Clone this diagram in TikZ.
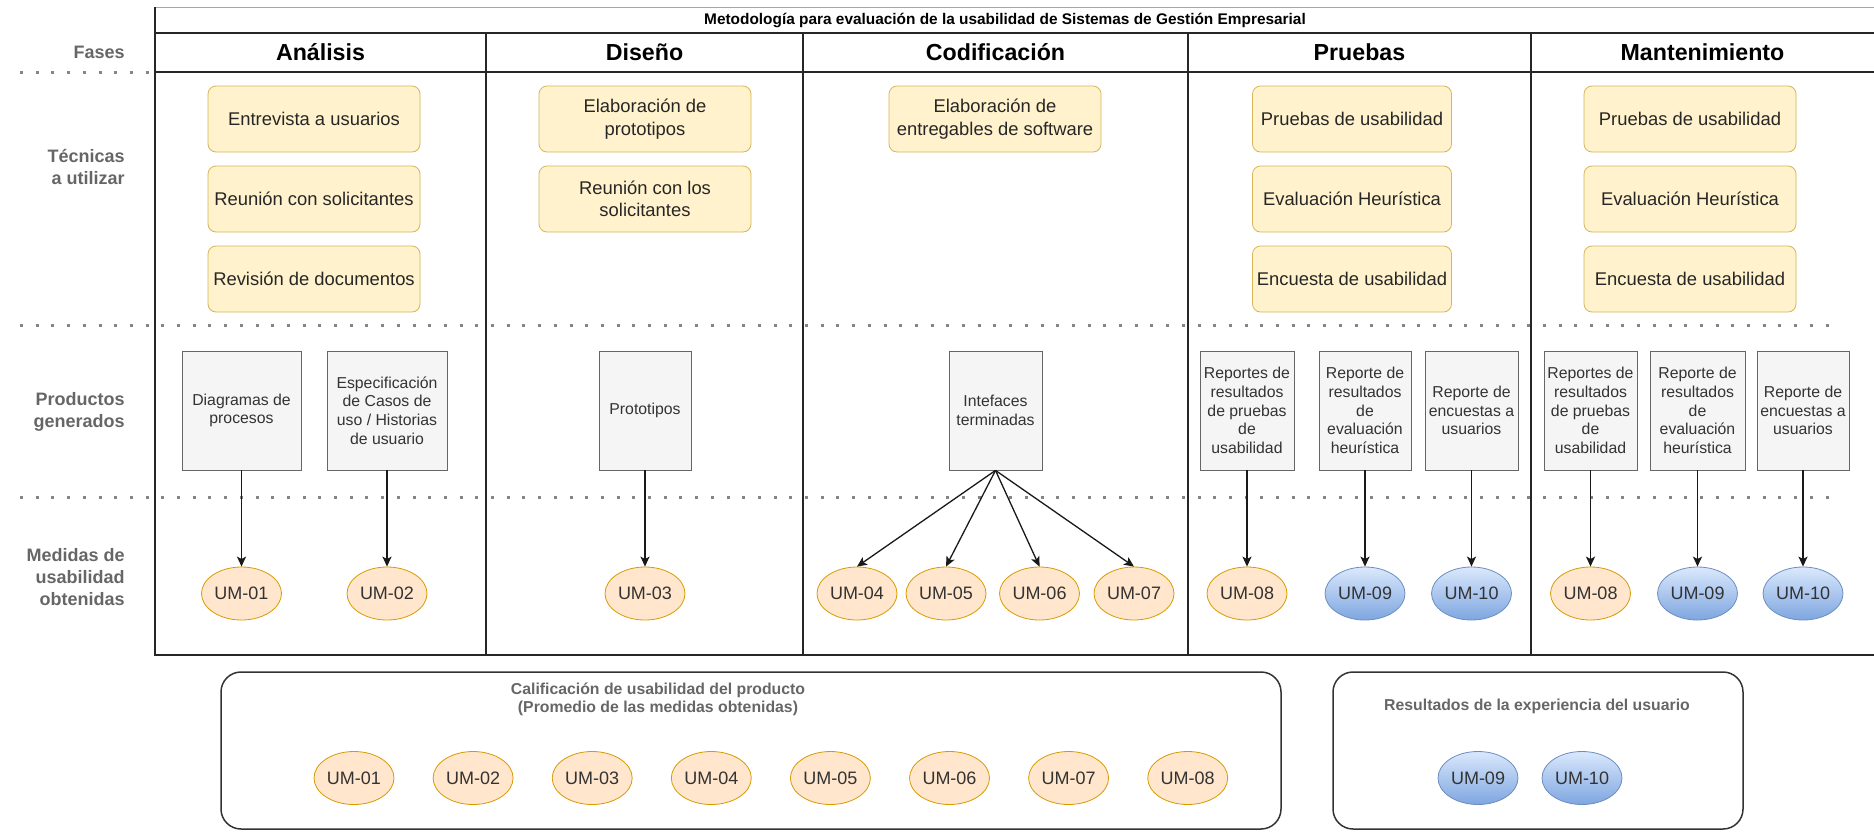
\documentclass[tikz,border=0pt]{standalone}
\usepackage{fontspec}
\setmainfont{Liberation Sans}
\usetikzlibrary{shapes.geometric,arrows.meta,positioning}
\definecolor{notaborde}{HTML}{D6B656}
\definecolor{notafondo}{HTML}{FFF2CC}
\definecolor{grisborde}{HTML}{666666}
\definecolor{grisfondo}{HTML}{F5F5F5}
\definecolor{textogris}{HTML}{333333}
\definecolor{naranjaborde}{HTML}{D79B00}
\definecolor{naranjafondo}{HTML}{FFE6CC}
\definecolor{azulborde}{HTML}{6C8EBF}
\definecolor{azularriba}{HTML}{DAE8FC}
\definecolor{azulabajo}{HTML}{7EA6E0}
\tikzset{
  tecnica/.style={draw=notaborde, fill=notafondo, rounded corners=4pt, minimum width=106pt, minimum height=33pt, align=center, inner sep=1pt, text=black!85, font=\fontsize{9.2}{11.2}\selectfont},
  producto/.style={draw=grisborde, fill=grisfondo, minimum height=59.5pt, align=center, inner sep=1pt, text=textogris, font=\fontsize{7.9}{9.3}\selectfont},
  medida/.style={ellipse, minimum width=40pt, minimum height=26.5pt, inner sep=0pt, text=textogris, font=\fontsize{9}{10}\selectfont},
  umnar/.style={medida, draw=naranjaborde, fill=naranjafondo},
  umazul/.style={medida, draw=azulborde, top color=azularriba, bottom color=azulabajo},
  fase/.style={font=\bfseries\fontsize{11.6}{14}\selectfont},
  fila/.style={anchor=east, align=right, inner sep=0pt, text=grisborde, font=\bfseries\fontsize{9}{10.8}\selectfont},
  subtitulo/.style={align=center, inner sep=0pt, text=grisborde, font=\bfseries\fontsize{7.9}{9}\selectfont},
  grupo/.style={draw=textogris, line width=0.75pt, rounded corners=10pt},
  linea/.style={line width=0.8pt, black!85},
  flecha/.style={-{Stealth[length=5pt,width=4.5pt,inset=1.2pt]}, line width=0.65pt, black!90},
  puntos/.style={draw=grisborde!80, line width=1.5pt, dash pattern=on 1.5pt off 6.35pt}
}
\begin{document}
\begin{tikzpicture}[x=0.5pt,y=-0.5pt]
\useasboundingbox (0,0) rectangle (1874,831);
\draw[puntos] (20,72) -- (155,72);
\draw[puntos] (20,325) -- (1840,325);
\draw[puntos] (20,497) -- (1840,497);

\draw[gray!70, line width=0.5pt] (155,7) -- (1874,7);
\draw[linea] (155,7) -- (155,655) -- (1874,655);
\draw[linea] (155,33) -- (1874,33) (155,72) -- (1874,72);
\foreach \x in {486,803,1188,1531} \draw[linea] (\x,33) -- (\x,655);

\node[font=\bfseries\fontsize{7.7}{9}\selectfont] (titulo) at (1005,20) {Metodología para evaluación de la usabilidad de Sistemas de Gestión Empresarial};
\node[fase] (analisis) at (320.5,52) {Análisis};
\node[fase] (diseno) at (644.5,52) {Diseño};
\node[fase] (codif) at (995.5,52) {Codificación};
\node[fase] (pruebas) at (1359.5,52) {Pruebas};
\node[fase] (mant) at (1702.5,52) {Mantenimiento};

\node[fila] (fases) at (125,52) {Fases};
\node[fila] (tecnicas) at (125,167) {Técnicas\\a utilizar};
\node[fila] (productos) at (125,412) {Productos\\generados};
\node[fila] (medidas) at (125,577) {Medidas de\\usabilidad\\obtenidas};

\node[tecnica] (ta1) at (314,119) {Entrevista a usuarios};
\node[tecnica] (ta2) at (314,199) {Reunión con solicitantes};
\node[tecnica] (ta3) at (314,279) {Revisión de documentos};
\node[tecnica] (td1) at (645,119) {Elaboración de\\prototipos};
\node[tecnica] (td2) at (645,199) {Reunión con los\\solicitantes};
\node[tecnica] (tc1) at (995,119) {Elaboración de\\entregables de software};
\node[tecnica, minimum width=99.5pt] (tp1) at (1352,119) {Pruebas de usabilidad};
\node[tecnica, minimum width=99.5pt] (tp2) at (1352,199) {Evaluación Heurística};
\node[tecnica, minimum width=99.5pt] (tp3) at (1352,279) {Encuesta de usabilidad};
\node[tecnica] (tm1) at (1690,119) {Pruebas de usabilidad};
\node[tecnica] (tm2) at (1690,199) {Evaluación Heurística};
\node[tecnica] (tm3) at (1690,279) {Encuesta de usabilidad};

\node[producto, minimum width=59.5pt] (pa1) at (241.5,410.5) {Diagramas de\\procesos};
\node[producto, minimum width=60pt] (pa2) at (387,410.5) {Especificación\\de Casos de\\uso / Historias\\de usuario};
\node[producto, minimum width=46pt] (pd1) at (645,410.5) {Prototipos};
\node[producto, minimum width=46.5pt] (pc1) at (995.5,410.5) {Intefaces\\terminadas};
\node[producto, minimum width=47pt] (pp1) at (1247,410.5) {Reportes de\\resultados\\de pruebas\\de\\usabilidad};
\node[producto, minimum width=46pt] (pp2) at (1365,410.5) {Reporte de\\resultados\\de\\evaluación\\heurística};
\node[producto, minimum width=46.5pt] (pp3) at (1471.5,410.5) {Reporte de\\encuestas a\\usuarios};
\node[producto, minimum width=46.5pt] (pm1) at (1590.5,410.5) {Reportes de\\resultados\\de pruebas\\de\\usabilidad};
\node[producto, minimum width=47.5pt] (pm2) at (1697.5,410.5) {Reporte de\\resultados\\de\\evaluación\\heurística};
\node[producto, minimum width=46pt] (pm3) at (1803,410.5) {Reporte de\\encuestas a\\usuarios};

\node[umnar] (ua1) at (241.5,593.5) {UM-01};
\node[umnar] (ua2) at (387,593.5) {UM-02};
\node[umnar] (ud1) at (645,593.5) {UM-03};
\node[umnar] (uc1) at (857,593.5) {UM-04};
\node[umnar] (uc2) at (946,593.5) {UM-05};
\node[umnar] (uc3) at (1039.5,593.5) {UM-06};
\node[umnar] (uc4) at (1134,593.5) {UM-07};
\node[umnar] (up1) at (1247,593.5) {UM-08};
\node[umazul] (up2) at (1365,593.5) {UM-09};
\node[umazul] (up3) at (1471.5,593.5) {UM-10};
\node[umnar] (um1) at (1590.5,593.5) {UM-08};
\node[umazul] (um2) at (1697.5,593.5) {UM-09};
\node[umazul] (um3) at (1803,593.5) {UM-10};

\foreach \a/\b in {pa1/ua1,pa2/ua2,pd1/ud1,pc1/uc1,pc1/uc2,pc1/uc3,pc1/uc4,pp1/up1,pp2/up2,pp3/up3,pm1/um1,pm2/um2,pm3/um3}
  \draw[flecha] (\a.south) -- (\b.north);

\node[grupo, minimum width=530pt, minimum height=78.5pt] (calif) at (751,750.5) {};
\node[grupo, minimum width=205pt, minimum height=78.5pt] (experiencia) at (1538,750.5) {};
\node[subtitulo] (califtit) at (658,699) {Calificación de usabilidad del producto\\(Promedio de las medidas obtenidas)};
\node[subtitulo] (experienciatit) at (1537,706) {Resultados de la experiencia del usuario};
\foreach \n [count=\i] in {01,02,03,04,05,06,07,08}
  \node[umnar] (c\n) at ({354+119.1*(\i-1)},778) {UM-\n};
\node[umazul] (e09) at (1478,778) {UM-09};
\node[umazul] (e10) at (1582,778) {UM-10};
\end{tikzpicture}
\end{document}
